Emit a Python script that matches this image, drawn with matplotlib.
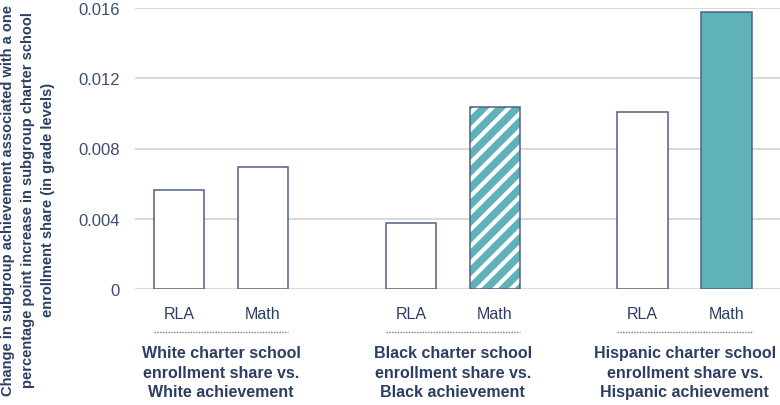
import matplotlib
matplotlib.use("Agg")
import matplotlib.pyplot as plt
import matplotlib.transforms as mtransforms
import numpy as np

plt.rcParams['font.family'] = ['Liberation Sans', 'DejaVu Sans']
plt.rcParams['hatch.linewidth'] = 3.0

# data
groups = ["White charter school\nenrollment share vs.\nWhite achievement",
          "Black charter school\nenrollment share vs.\nBlack achievement",
          "Hispanic charter school\nenrollment share vs.\nHispanic achievement"]
subjects = ["RLA", "Math"]
rla_vals = [0.00565, 0.00377, 0.01008]
math_vals = [0.00697, 0.01036, 0.01578]
# style of the Math bar per group: outline, hatched, solid
math_style = ["outline", "hatch", "solid"]
yticks = [0, 0.004, 0.008, 0.012, 0.016]
ytick_labels = ["0", "0.004", "0.008", "0.012", "0.016"]

navy = "#2c3e63"
edge = "#4f5f85"
teal = "#5fb3b8"
grid = "#d9d9d9"

fig = plt.figure(figsize=(7.8, 4.06), dpi=100)
ax = fig.add_axes([135 / 780, 1 - 290 / 406, 1 - 135 / 780, (290 - 9) / 406])

step = 2.76
width = 0.6
gx = np.arange(len(groups)) * step
x_rla = gx
x_math = gx + 1

for y in yticks:
    ax.axhline(y, color=grid, lw=1.5, zorder=0)

ax.bar(x_rla, rla_vals, width, facecolor="white", edgecolor=edge, lw=1.1, zorder=2)
for xm, v, st in zip(x_math, math_vals, math_style):
    if st == "outline":
        ax.bar(xm, v, width, facecolor="white", edgecolor=edge, lw=1.1, zorder=2)
    elif st == "hatch":
        ax.bar(xm, v, width, facecolor=teal, edgecolor="white", hatch="//", lw=0, zorder=2)
        ax.bar(xm, v, width, fill=False, edgecolor=edge, lw=1.1, zorder=3)
    else:
        ax.bar(xm, v, width, facecolor=teal, edgecolor=edge, lw=1.1, zorder=2)

ax.set_ylim(0, 0.016)
ax.set_xlim(-0.524, 7.155)
ax.set_yticks(yticks)
ax.set_yticklabels(ytick_labels)
ax.tick_params(axis="y", length=0, pad=11, labelsize=12, labelcolor="#3d4d6e")
ax.set_xticks([])
for s in ax.spines.values():
    s.set_visible(False)

trans = mtransforms.blended_transform_factory(ax.transData, fig.transFigure)
for i in range(len(groups)):
    for xx, lab in zip([x_rla[i], x_math[i]], subjects):
        ax.text(xx, 1 - 315 / 406, lab, transform=trans, ha="center", va="center",
                fontsize=11.5, color=navy, clip_on=False)
    ax.plot([x_rla[i] - width / 2, x_math[i] + width / 2], [1 - 333 / 406] * 2,
            transform=trans, color="#7a7a7a", lw=1, ls=(0, (1, 1)), clip_on=False)
    ax.text((x_rla[i] + x_math[i]) / 2, 1 - 346 / 406, groups[i], transform=trans,
            ha="center", va="top", fontsize=11.5, fontweight="bold", color=navy,
            linespacing=1.38, clip_on=False)

fig.text(0.036, 1 - 200 / 406,
         "Change in subgroup achievement associated with a one\n"
         "percentage point increase in subgroup charter school\n"
         "enrollment share (in grade levels)",
         rotation=90, ha="center", va="center", multialignment="center",
         fontsize=10.5, fontweight="bold", color=navy, linespacing=1.55)

fig.savefig("out.png", dpi=100)
